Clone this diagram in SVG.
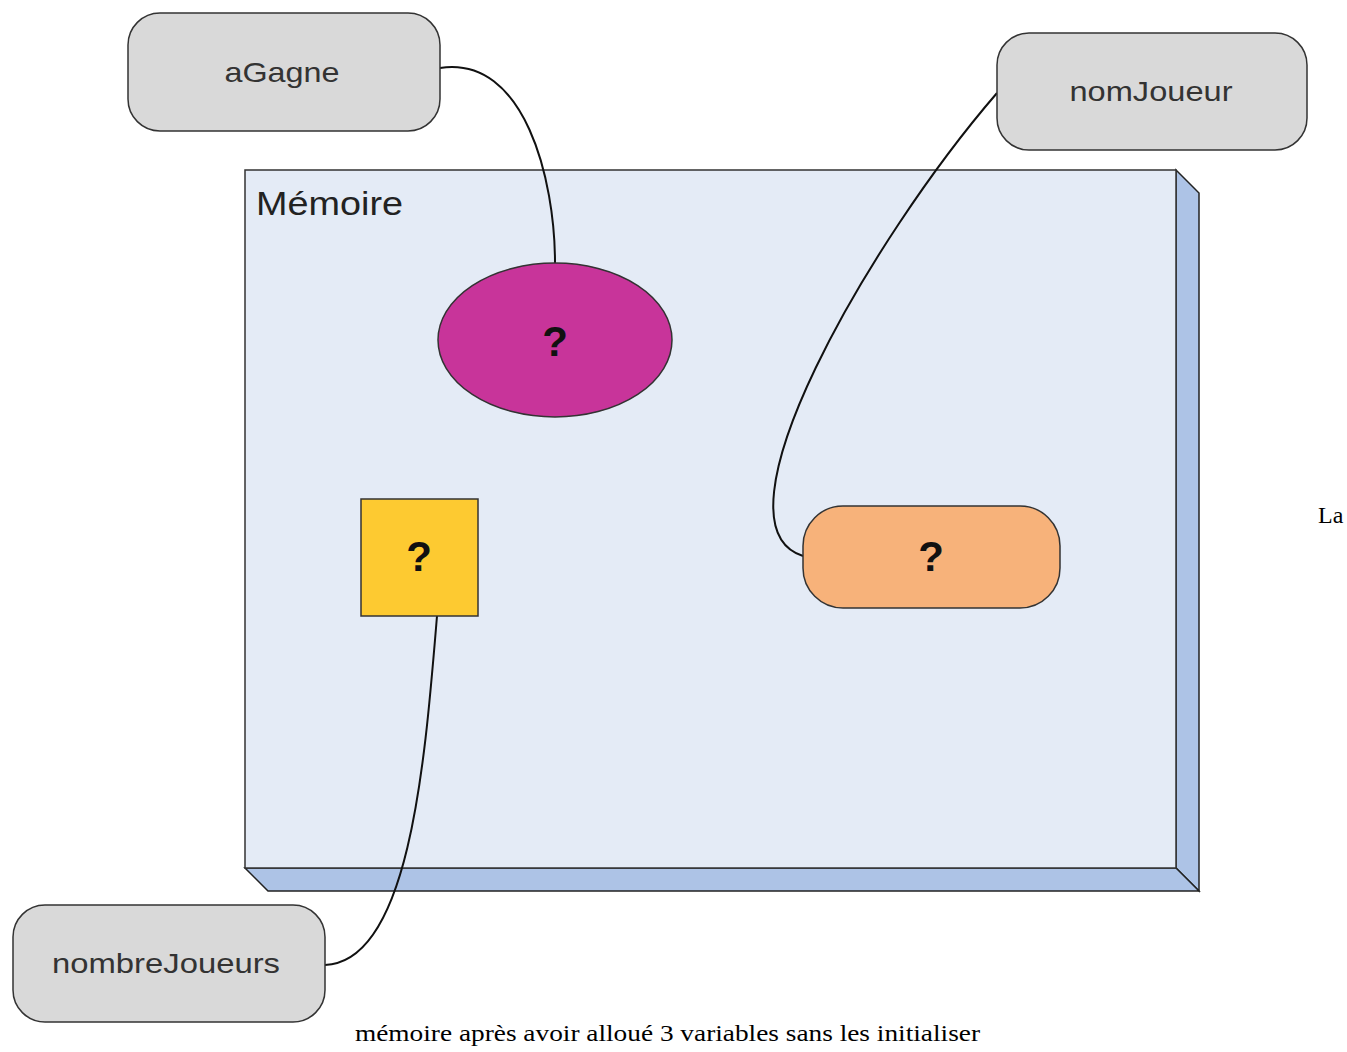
<svg xmlns="http://www.w3.org/2000/svg" width="1347" height="1052" viewBox="0 0 1347 1052">
<style>
.lbl{font-family:"Liberation Sans",Arial,sans-serif;fill:#333333;text-anchor:middle}
.q{font-family:"Liberation Sans",Arial,sans-serif;font-weight:bold;font-size:42px;fill:#111111;text-anchor:middle}
.cap{font-family:"Liberation Serif","Times New Roman",serif;font-size:24px;fill:#000000}
.var{fill:#d9d9d9;stroke:#333333;stroke-width:1.5}
.conn{fill:none;stroke:#111111;stroke-width:2}
</style>
<rect width="1347" height="1052" fill="#ffffff"/>
<g id="memoire">
<polygon points="1176,170 1199,193 1199,891 1176,868" fill="#adc3e6" stroke="#222222" stroke-width="1.5"/>
<polygon points="245,868 1176,868 1199,891 268,891" fill="#adc3e6" stroke="#222222" stroke-width="1.5"/>
<rect x="245" y="170" width="931" height="698" fill="#e4ebf6" stroke="#333333" stroke-width="1.5"/>
<text x="256" y="215" font-family="Liberation Sans,Arial,sans-serif" font-size="34" fill="#222222" textLength="147" lengthAdjust="spacingAndGlyphs">Mémoire</text>
</g>
<g id="connectors">
<path class="conn" d="M440,68 C525,55 555,180 555,263"/>
<path class="conn" d="M997,93 C870,240 705,525 803,556"/>
<path class="conn" d="M437,616 C425,760 410,962 325,965"/>
</g>
<g id="aGagne">
<rect class="var" x="128" y="13" width="312" height="118" rx="32"/>
<text class="lbl" x="282" y="82" font-size="28" textLength="115" lengthAdjust="spacingAndGlyphs">aGagne</text>
</g>
<g id="nomJoueur">
<rect class="var" x="997" y="33" width="310" height="117" rx="32"/>
<text class="lbl" x="1151" y="101" font-size="28" textLength="163" lengthAdjust="spacingAndGlyphs">nomJoueur</text>
</g>
<g id="nombreJoueurs">
<rect class="var" x="13" y="905" width="312" height="117" rx="32"/>
<text class="lbl" x="166" y="973" font-size="28" textLength="228" lengthAdjust="spacingAndGlyphs">nombreJoueurs</text>
</g>
<g id="varAGagne">
<ellipse cx="555" cy="340" rx="117" ry="77" fill="#c8349a" stroke="#333333" stroke-width="1.5"/>
<text class="q" x="555" y="356">?</text>
</g>
<g id="varNombreJoueurs">
<rect x="361" y="499" width="117" height="117" fill="#fdca31" stroke="#333333" stroke-width="1.5"/>
<text class="q" x="419" y="571">?</text>
</g>
<g id="varNomJoueur">
<rect x="803" y="506" width="257" height="102" rx="40" fill="#f7b27a" stroke="#333333" stroke-width="1.5"/>
<text class="q" x="931" y="571">?</text>
</g>
<text class="cap" x="1318" y="523">La</text>
<text class="cap" x="355" y="1041" textLength="625" lengthAdjust="spacingAndGlyphs">mémoire après avoir alloué 3 variables sans les initialiser</text>
</svg>
